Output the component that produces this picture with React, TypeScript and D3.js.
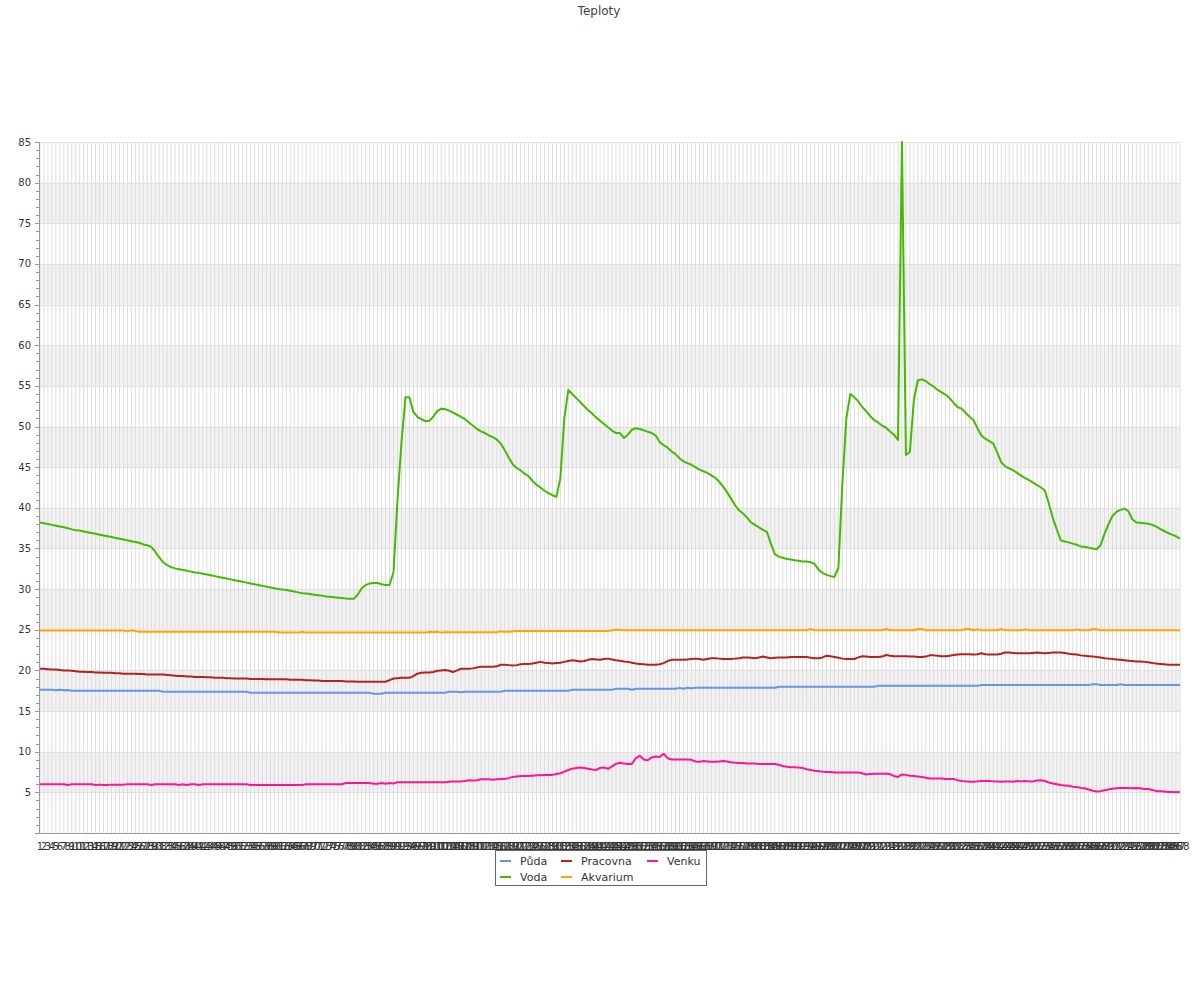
import React from "react";
import * as d3 from "d3";

const categories: string[] = d3.range(1, 289).map((d) => String(d));

const yTicks: number[] = [5, 10, 15, 20, 25, 30, 35, 40, 45, 50, 55, 60, 65, 70, 75, 80, 85];

const seriesNames = ["Půda", "Voda", "Pracovna", "Akvarium", "Venku"];
const seriesColors = ["#6495ED", "#44BB00", "#B22222", "#FFA500", "#FF1493"];

const puda: number[] = [
  17.63, 17.63, 17.63, 17.63, 17.55, 17.63, 17.55, 17.6, 17.5, 17.5,
  17.5, 17.5, 17.5, 17.5, 17.5, 17.5, 17.5, 17.5, 17.5, 17.5,
  17.5, 17.5, 17.5, 17.5, 17.5, 17.5, 17.5, 17.5, 17.5, 17.5,
  17.5, 17.38, 17.38, 17.38, 17.38, 17.38, 17.38, 17.38, 17.38, 17.38,
  17.38, 17.38, 17.38, 17.38, 17.38, 17.38, 17.38, 17.38, 17.38, 17.38,
  17.38, 17.38, 17.38, 17.26, 17.26, 17.26, 17.26, 17.26, 17.26, 17.26,
  17.26, 17.26, 17.26, 17.26, 17.26, 17.26, 17.26, 17.26, 17.26, 17.26,
  17.26, 17.26, 17.26, 17.26, 17.26, 17.26, 17.26, 17.26, 17.26, 17.26,
  17.26, 17.26, 17.26, 17.26, 17.14, 17.14, 17.14, 17.26, 17.26, 17.26,
  17.26, 17.26, 17.26, 17.26, 17.26, 17.26, 17.26, 17.26, 17.26, 17.26,
  17.26, 17.26, 17.26, 17.38, 17.38, 17.38, 17.3, 17.38, 17.38, 17.38,
  17.38, 17.38, 17.38, 17.38, 17.38, 17.38, 17.38, 17.5, 17.5, 17.5,
  17.5, 17.5, 17.5, 17.5, 17.5, 17.5, 17.5, 17.5, 17.5, 17.5,
  17.5, 17.5, 17.5, 17.5, 17.62, 17.62, 17.62, 17.62, 17.62, 17.62,
  17.62, 17.62, 17.62, 17.62, 17.62, 17.75, 17.75, 17.75, 17.75, 17.62,
  17.75, 17.75, 17.75, 17.75, 17.75, 17.75, 17.75, 17.75, 17.75, 17.75,
  17.75, 17.85, 17.75, 17.87, 17.8, 17.87, 17.87, 17.87, 17.87, 17.87,
  17.87, 17.87, 17.87, 17.87, 17.87, 17.87, 17.87, 17.87, 17.87, 17.87,
  17.87, 17.87, 17.87, 17.87, 17.87, 17.87, 18.0, 18.0, 18.0, 18.0,
  18.0, 18.0, 18.0, 18.0, 18.0, 18.0, 18.0, 18.0, 18.0, 18.0,
  18.0, 18.0, 18.0, 18.0, 18.0, 18.0, 18.0, 18.0, 18.0, 18.0,
  18.0, 18.1, 18.1, 18.1, 18.1, 18.1, 18.1, 18.1, 18.1, 18.1,
  18.1, 18.1, 18.1, 18.1, 18.1, 18.1, 18.1, 18.1, 18.1, 18.1,
  18.1, 18.1, 18.1, 18.1, 18.1, 18.1, 18.1, 18.2, 18.2, 18.2,
  18.2, 18.2, 18.2, 18.2, 18.2, 18.2, 18.2, 18.2, 18.2, 18.2,
  18.2, 18.2, 18.2, 18.2, 18.2, 18.2, 18.2, 18.2, 18.2, 18.2,
  18.2, 18.2, 18.2, 18.2, 18.2, 18.3, 18.3, 18.2, 18.2, 18.2,
  18.2, 18.2, 18.3, 18.2, 18.2, 18.2, 18.2, 18.2, 18.2, 18.2,
  18.2, 18.2, 18.2, 18.2, 18.2, 18.2, 18.2, 18.2,
];

const voda: number[] = [
  38.2, 38.1, 38.0, 37.9, 37.8, 37.7, 37.6, 37.5, 37.35, 37.25,
  37.2, 37.1, 37.0, 36.9, 36.8, 36.7, 36.6, 36.5, 36.4, 36.3,
  36.2, 36.1, 36.0, 35.9, 35.8, 35.7, 35.5, 35.4, 35.2, 34.6,
  33.9, 33.3, 32.95, 32.7, 32.55, 32.45, 32.35, 32.25, 32.15, 32.05,
  32.0, 31.9, 31.8, 31.7, 31.6, 31.5, 31.4, 31.3, 31.2, 31.1,
  31.0, 30.9, 30.8, 30.7, 30.6, 30.5, 30.4, 30.3, 30.2, 30.1,
  30.0, 29.95, 29.9, 29.8, 29.7, 29.6, 29.5, 29.45, 29.4, 29.3,
  29.25, 29.2, 29.1, 29.05, 29.0, 28.95, 28.9, 28.85, 28.8, 28.8,
  29.3, 30.1, 30.5, 30.7, 30.75, 30.75, 30.6, 30.5, 30.5, 32.1,
  41.0, 48.0, 53.6, 53.6, 51.8, 51.2, 50.9, 50.65, 50.7, 51.2,
  51.9, 52.2, 52.15, 51.95, 51.7, 51.45, 51.2, 50.9, 50.5, 50.1,
  49.7, 49.4, 49.2, 48.9, 48.7, 48.4, 47.9, 47.1, 46.2, 45.35,
  44.9, 44.6, 44.2, 43.9, 43.3, 42.85, 42.5, 42.1, 41.8, 41.55,
  41.35, 43.6, 51.0, 54.5, 54.0, 53.5, 53.0, 52.5, 52.0, 51.6,
  51.1, 50.7, 50.3, 49.9, 49.5, 49.2, 49.2, 48.6, 49.0, 49.6,
  49.8, 49.7, 49.55, 49.35, 49.2, 48.9, 48.1, 47.7, 47.4, 46.95,
  46.6, 46.1, 45.7, 45.5, 45.3, 45.0, 44.7, 44.5, 44.3, 44.0,
  43.7, 43.2, 42.6, 41.9, 41.1, 40.3, 39.7, 39.3, 38.8, 38.2,
  37.9, 37.6, 37.3, 37.05, 35.6, 34.3, 34.0, 33.85, 33.7, 33.65,
  33.55, 33.5, 33.4, 33.4, 33.3, 33.1, 32.4, 32.0, 31.75, 31.6,
  31.5, 32.6, 43.0, 51.0, 54.0, 53.6, 53.1, 52.4, 51.9, 51.3,
  50.8, 50.5, 50.1, 49.85, 49.4, 49.0, 48.35, 85.0, 46.5, 46.9,
  53.3, 55.7, 55.8, 55.6, 55.2, 54.9, 54.5, 54.2, 53.9, 53.5,
  52.9, 52.4, 52.2, 51.7, 51.2, 50.8, 49.8, 48.9, 48.5, 48.2,
  47.9, 46.8, 45.6, 45.1, 44.85, 44.6, 44.3, 43.95, 43.65, 43.4,
  43.1, 42.8, 42.5, 42.1, 40.5, 38.7, 37.3, 36.0, 35.85, 35.75,
  35.6, 35.45, 35.25, 35.2, 35.1, 35.0, 34.9, 35.4, 36.8, 38.0,
  39.0, 39.5, 39.75, 39.9, 39.6, 38.6, 38.2, 38.15, 38.1, 38.05,
  37.9, 37.7, 37.4, 37.15, 36.9, 36.7, 36.5, 36.2,
];

const pracovna: number[] = [
  20.2, 20.2, 20.15, 20.1, 20.1, 20.05, 20.0, 20.0, 19.95, 19.9,
  19.85, 19.85, 19.8, 19.8, 19.75, 19.75, 19.7, 19.7, 19.7, 19.65,
  19.65, 19.6, 19.6, 19.6, 19.6, 19.55, 19.55, 19.5, 19.5, 19.5,
  19.5, 19.5, 19.45, 19.4, 19.35, 19.3, 19.3, 19.25, 19.25, 19.2,
  19.2, 19.2, 19.15, 19.15, 19.1, 19.1, 19.1, 19.05, 19.05, 19.0,
  19.0, 19.0, 19.0, 18.95, 18.95, 18.95, 18.95, 18.9, 18.9, 18.9,
  18.9, 18.9, 18.9, 18.85, 18.85, 18.85, 18.85, 18.8, 18.8, 18.75,
  18.75, 18.7, 18.7, 18.7, 18.7, 18.7, 18.7, 18.65, 18.65, 18.65,
  18.6, 18.6, 18.6, 18.6, 18.6, 18.6, 18.6, 18.6, 18.8, 19.0,
  19.05, 19.1, 19.1, 19.1, 19.3, 19.6, 19.7, 19.75, 19.75, 19.8,
  19.95, 20.0, 20.05, 19.95, 19.8, 20.0, 20.2, 20.2, 20.2, 20.25,
  20.35, 20.45, 20.45, 20.45, 20.45, 20.5, 20.7, 20.7, 20.65, 20.6,
  20.65, 20.75, 20.8, 20.8, 20.85, 20.95, 21.05, 20.95, 20.9, 20.85,
  20.9, 20.95, 21.05, 21.15, 21.25, 21.2, 21.1, 21.15, 21.3, 21.4,
  21.35, 21.3, 21.4, 21.45, 21.35, 21.25, 21.2, 21.1, 21.05, 20.95,
  20.85, 20.8, 20.75, 20.7, 20.7, 20.7, 20.75, 20.9, 21.15, 21.3,
  21.3, 21.3, 21.3, 21.35, 21.4, 21.45, 21.4, 21.3, 21.4, 21.5,
  21.5, 21.45, 21.4, 21.4, 21.4, 21.45, 21.5, 21.6, 21.6, 21.55,
  21.5, 21.6, 21.7, 21.6, 21.5, 21.55, 21.6, 21.6, 21.6, 21.65,
  21.65, 21.65, 21.65, 21.65, 21.55, 21.5, 21.5, 21.6, 21.8, 21.75,
  21.65, 21.55, 21.45, 21.4, 21.4, 21.4, 21.6, 21.75, 21.7, 21.65,
  21.65, 21.65, 21.7, 21.9, 21.8, 21.75, 21.75, 21.75, 21.75, 21.7,
  21.7, 21.65, 21.65, 21.7, 21.85, 21.85, 21.8, 21.75, 21.75, 21.8,
  21.9, 21.95, 22.0, 22.0, 22.0, 21.95, 22.0, 22.1, 22.0, 21.95,
  21.95, 21.95, 22.05, 22.2, 22.2, 22.15, 22.1, 22.1, 22.1, 22.1,
  22.15, 22.2, 22.15, 22.1, 22.15, 22.2, 22.2, 22.2, 22.15, 22.05,
  22.0, 21.95, 21.85, 21.8, 21.75, 21.7, 21.65, 21.6, 21.5, 21.45,
  21.4, 21.35, 21.3, 21.25, 21.2, 21.15, 21.1, 21.1, 21.05, 21.0,
  20.9, 20.85, 20.8, 20.75, 20.7, 20.7, 20.7, 20.7,
];

const akvarium: number[] = [
  24.9, 24.9, 24.9, 24.9, 24.9, 24.9, 24.9, 24.9, 24.9, 24.9,
  24.9, 24.9, 24.9, 24.9, 24.9, 24.9, 24.9, 24.9, 24.9, 24.9,
  24.9, 24.9, 24.8, 24.95, 24.85, 24.75, 24.75, 24.75, 24.75, 24.75,
  24.75, 24.75, 24.75, 24.75, 24.75, 24.75, 24.75, 24.75, 24.75, 24.75,
  24.75, 24.75, 24.75, 24.75, 24.75, 24.75, 24.75, 24.75, 24.75, 24.75,
  24.75, 24.75, 24.75, 24.75, 24.75, 24.75, 24.75, 24.75, 24.75, 24.75,
  24.7, 24.65, 24.65, 24.65, 24.65, 24.65, 24.75, 24.65, 24.65, 24.65,
  24.65, 24.65, 24.65, 24.65, 24.65, 24.65, 24.65, 24.65, 24.65, 24.65,
  24.65, 24.65, 24.65, 24.65, 24.65, 24.65, 24.65, 24.65, 24.65, 24.65,
  24.65, 24.65, 24.65, 24.65, 24.65, 24.65, 24.65, 24.65, 24.75, 24.7,
  24.75, 24.65, 24.7, 24.7, 24.7, 24.7, 24.7, 24.7, 24.7, 24.7,
  24.7, 24.7, 24.7, 24.7, 24.7, 24.7, 24.8, 24.75, 24.75, 24.8,
  24.85, 24.85, 24.85, 24.85, 24.85, 24.85, 24.85, 24.85, 24.85, 24.85,
  24.85, 24.85, 24.85, 24.85, 24.85, 24.85, 24.85, 24.85, 24.85, 24.85,
  24.85, 24.85, 24.85, 24.85, 24.95, 25.0, 25.0, 24.95, 24.95, 24.95,
  24.95, 24.95, 24.95, 24.95, 24.95, 24.95, 24.95, 24.95, 24.95, 24.95,
  24.95, 24.95, 24.95, 24.95, 24.95, 24.95, 24.95, 24.95, 24.95, 24.95,
  24.95, 24.95, 24.95, 24.95, 24.95, 24.95, 24.95, 24.95, 24.95, 24.95,
  24.95, 24.95, 24.95, 24.95, 24.95, 24.95, 24.95, 24.95, 24.95, 24.95,
  24.95, 24.95, 24.95, 24.95, 25.1, 24.95, 24.95, 24.95, 24.95, 24.95,
  24.95, 24.95, 24.95, 24.95, 24.95, 24.95, 24.95, 24.95, 24.95, 24.95,
  24.95, 24.95, 24.95, 25.1, 24.95, 24.95, 24.95, 24.95, 24.95, 24.95,
  24.95, 25.1, 25.1, 24.95, 24.95, 24.95, 24.95, 24.95, 24.95, 24.95,
  24.95, 24.95, 24.95, 25.1, 25.1, 24.95, 25.05, 24.95, 24.95, 24.95,
  24.95, 24.95, 25.1, 24.95, 24.95, 24.95, 24.95, 24.95, 25.05, 24.95,
  24.95, 24.95, 24.95, 24.95, 24.95, 24.95, 24.95, 24.95, 24.95, 24.95,
  24.95, 25.05, 24.95, 24.95, 24.95, 25.1, 25.05, 24.95, 24.95, 24.95,
  24.95, 24.95, 24.95, 24.95, 24.95, 24.95, 24.95, 24.95, 24.95, 24.95,
  24.95, 24.95, 24.95, 24.95, 24.95, 24.95, 24.95, 24.95,
];

const venku: number[] = [
  6.0, 6.0, 6.0, 6.0, 6.0, 6.0, 6.0, 5.9, 6.0, 6.0,
  6.0, 6.0, 6.0, 6.0, 5.9, 5.95, 5.9, 5.9, 5.95, 5.95,
  5.95, 5.95, 6.0, 6.0, 6.0, 6.0, 6.0, 6.0, 5.9, 6.0,
  6.0, 6.0, 6.0, 6.0, 6.0, 5.9, 6.0, 5.9, 6.0, 6.0,
  5.9, 6.0, 6.0, 6.0, 6.0, 6.0, 6.0, 6.0, 6.0, 6.0,
  6.0, 6.0, 6.0, 5.9, 5.9, 5.9, 5.9, 5.9, 5.9, 5.9,
  5.9, 5.9, 5.9, 5.9, 5.9, 5.9, 5.9, 6.0, 6.0, 6.0,
  6.0, 6.0, 6.0, 6.0, 6.0, 6.0, 6.0, 6.15, 6.15, 6.15,
  6.15, 6.15, 6.15, 6.15, 6.05, 6.05, 6.15, 6.05, 6.15, 6.1,
  6.25, 6.25, 6.25, 6.25, 6.25, 6.25, 6.25, 6.25, 6.25, 6.25,
  6.25, 6.25, 6.25, 6.3, 6.35, 6.35, 6.35, 6.4, 6.5, 6.45,
  6.5, 6.6, 6.6, 6.6, 6.55, 6.6, 6.65, 6.65, 6.75, 6.9,
  6.95, 7.0, 7.0, 7.0, 7.05, 7.1, 7.1, 7.15, 7.15, 7.15,
  7.25, 7.35, 7.55, 7.75, 7.9, 8.0, 8.05, 8.0, 7.9, 7.8,
  7.75, 8.0, 8.05, 7.9, 8.2, 8.5, 8.65, 8.55, 8.5, 8.5,
  9.2, 9.5, 9.05, 8.95, 9.3, 9.4, 9.35, 9.75, 9.2, 9.05,
  9.05, 9.05, 9.05, 9.05, 9.0, 8.8, 8.75, 8.85, 8.8, 8.75,
  8.75, 8.8, 8.85, 8.8, 8.7, 8.65, 8.6, 8.6, 8.55, 8.55,
  8.55, 8.5, 8.5, 8.5, 8.5, 8.5, 8.4, 8.25, 8.15, 8.1,
  8.1, 8.05, 8.0, 7.85, 7.75, 7.65, 7.6, 7.55, 7.5, 7.5,
  7.45, 7.45, 7.45, 7.45, 7.45, 7.45, 7.45, 7.35, 7.2, 7.25,
  7.3, 7.3, 7.3, 7.3, 7.25, 7.0, 6.9, 7.2, 7.15, 7.05,
  7.0, 6.95, 6.9, 6.8, 6.7, 6.7, 6.7, 6.7, 6.65, 6.65,
  6.65, 6.5, 6.4, 6.35, 6.3, 6.3, 6.35, 6.4, 6.4, 6.4,
  6.35, 6.35, 6.3, 6.35, 6.35, 6.3, 6.4, 6.35, 6.4, 6.35,
  6.35, 6.45, 6.5, 6.4, 6.2, 6.1, 6.0, 5.9, 5.85, 5.8,
  5.7, 5.65, 5.55, 5.5, 5.35, 5.2, 5.1, 5.15, 5.25, 5.35,
  5.45, 5.5, 5.55, 5.55, 5.55, 5.5, 5.55, 5.5, 5.4, 5.4,
  5.3, 5.15, 5.15, 5.1, 5.05, 5.05, 5.0, 5.05,
];

const seriesData = [puda, voda, pracovna, akvarium, venku];

const W = 1200;
const H = 1000;
const M = { left: 40, right: 1180, top: 142, bottom: 833 };
const FONT = "'DejaVu Sans', sans-serif";

export default function App() {
  const x = d3.scalePoint<string>().domain(categories).range([M.left, M.right]);
  const y = d3.scaleLinear().domain([0, 85]).range([M.bottom, M.top]);
  const line = d3
    .line<number>()
    .x((_, i) => x(categories[i]) as number)
    .y((d) => y(d));

  const bands: number[] = d3.range(0, 85, 5);
  const minor: number[] = d3.range(0, 86, 1);

  const legendCols = [500, 561, 647];
  const legendRows = [861, 877];
  const legendPos = [
    [0, 0],
    [0, 1],
    [1, 0],
    [1, 1],
    [2, 0],
  ];

  return (
    <svg
      width={W}
      height={H}
      style={{ position: "absolute", left: 0, top: 0, background: "#fff" }}
      fontFamily={FONT}
    >
      <text x={599} y={15} textAnchor="middle" fontSize={12} fill="#444">
        Teploty
      </text>

      {bands.map((b, k) =>
        k % 2 === 1 ? (
          <rect
            key={"band" + b}
            x={M.left}
            y={y(b + 5)}
            width={M.right - M.left}
            height={y(b) - y(b + 5)}
            fill="#f2f2f2"
          />
        ) : null
      )}

      {categories.map((c) => (
        <line
          key={"vg" + c}
          x1={x(c)}
          x2={x(c)}
          y1={M.top}
          y2={M.bottom}
          stroke="#dcdcdc"
          strokeWidth={1}
        />
      ))}

      {yTicks.map((t) => (
        <line
          key={"hg" + t}
          x1={M.left}
          x2={M.right}
          y1={Math.round(y(t)) + 0.5}
          y2={Math.round(y(t)) + 0.5}
          stroke="#e0e0e0"
          strokeWidth={1}
        />
      ))}

      {seriesData.map((s, k) => (
        <path
          key={"s" + k}
          d={line(s) || ""}
          fill="none"
          stroke={seriesColors[k]}
          strokeWidth={2}
          strokeLinejoin="round"
        />
      ))}

      <line x1={M.left - 0.5} x2={M.left - 0.5} y1={M.top} y2={M.bottom} stroke="#999" />
      <line x1={M.left} x2={M.right} y1={M.bottom + 0.5} y2={M.bottom + 0.5} stroke="#999" />

      {minor.map((t) => (
        <line
          key={"tk" + t}
          x1={t % 5 === 0 ? M.left - 5 : M.left - 4}
          x2={M.left}
          y1={Math.round(y(t)) + 0.5}
          y2={Math.round(y(t)) + 0.5}
          stroke="#999"
        />
      ))}

      {yTicks.map((t) => (
        <text
          key={"yl" + t}
          x={31}
          y={y(t)}
          dy="0.35em"
          textAnchor="end"
          fontSize={10}
          fill="#333"
        >
          {t}
        </text>
      ))}

      {categories.map((c) => (
        <text
          key={"xl" + c}
          x={x(c)}
          y={850}
          textAnchor="middle"
          fontSize={10}
          fill="#333"
        >
          {c}
        </text>
      ))}

      <rect x={495.5} y={850.5} width={211} height={35} fill="#fff" stroke="#666" />
      {seriesNames.map((n, k) => {
        const [ci, ri] = legendPos[k];
        const lx = legendCols[ci];
        const ly = legendRows[ri];
        return (
          <g key={"lg" + n}>
            <line x1={lx} x2={lx + 11} y1={ly} y2={ly} stroke={seriesColors[k]} strokeWidth={2} />
            <text x={lx + 20} y={ly} dy="0.35em" fontSize={11} fill="#333">
              {n}
            </text>
          </g>
        );
      })}
    </svg>
  );
}
